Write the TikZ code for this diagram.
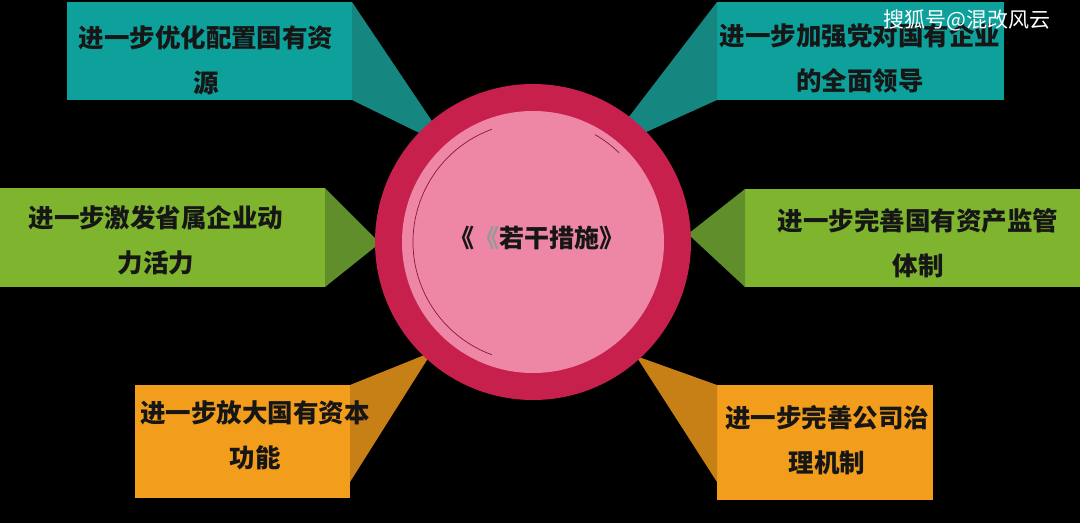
\documentclass[tikz,border=0pt]{standalone}
\usepackage{fontspec}
\newfontfamily\cjk{Noto Sans CJK SC}
\definecolor{tealbox}{RGB}{14,161,156}
\definecolor{tealwedge}{RGB}{22,134,128}
\definecolor{greenbox}{RGB}{126,180,46}
\definecolor{greenwedge}{RGB}{96,142,42}
\definecolor{orangebox}{RGB}{242,157,28}
\definecolor{orangewedge}{RGB}{199,128,22}
\definecolor{ringred}{RGB}{199,32,76}
\definecolor{discpink}{RGB}{237,135,165}
\definecolor{ink}{RGB}{22,22,22}
\tikzstyle{box}=[rectangle,inner sep=0pt,outer sep=0pt]
\tikzstyle{boxtext}=[align=center,text=ink,inner sep=0pt,font=\cjk\bfseries\fontsize{25.5}{45}\selectfont]
\tikzstyle{titletext}=[inner sep=0pt,font=\cjk\bfseries\fontsize{25}{30}\selectfont]

\begin{document}
\begin{tikzpicture}[x=1pt,y=-1pt]

   \useasboundingbox (0,0) rectangle (1080,523);
   \fill[black] (0,0) rectangle (1080,523);

    % the six boxes
    \foreach \pos/\name/\w/\h/\col in {{(209.5,51)/b1/285/98/tealbox}, {(860.5,51)/b2/287/98/tealbox},
        {(162.5,237.5)/b3/325/99/greenbox}, {(912.5,238)/b4/335/98/greenbox},
        {(242.5,441.5)/b5/215/113/orangebox}, {(825,442.5)/b6/216/115/orangebox}}
        \node[box,fill=\col,minimum width=\w,minimum height=\h] (\name) at \pos {};

    \foreach \pos/\name in {{(450,148)/w1}, {(602,152)/w2}, {(380,243)/w3},
        {(688,234)/w4}, {(432,352)/w5}, {(636,356)/w6}}
        \path \pos coordinate (\name);

    \fill[tealwedge] (b1.north east) -- (w1) -- (b1.south east) -- cycle;
    \fill[tealwedge] (b2.north west) -- (w2) -- (b2.south west) -- cycle;
    \fill[greenwedge] (b3.north east) -- (w3) -- (b3.south east) -- cycle;
    \fill[greenwedge] (b4.north west) -- (w4) -- (b4.south west) -- cycle;
    \fill[orangewedge] (b5.north east) -- (w5) -- ([yshift=16pt]b5.south east) -- cycle;
    \fill[orangewedge] (b6.north west) -- (w6) -- ([yshift=18pt]b6.south west) -- cycle;

    % centre
    \node[circle,fill=ringred,minimum size=316,inner sep=0pt] (ring) at (533,242) {};
    \node[circle,fill=discpink,minimum size=262,inner sep=0pt] (disc) at (ring) {};
    \draw[ringred!70!black,line width=0.7] (disc.center) ++(-110:120) arc[start angle=-110,end angle=-250,radius=120];
    \draw[ringred!70!black,line width=0.7] (disc.center) ++(-46:124) arc[start angle=-46,end angle=-60,radius=124];

    \node[titletext,text=ink] (title) at (537,238) {《{\color{black!40}《}若干措施》};

    \foreach \pos/\name/\txt in {{(206,60)/t1/{进一步优化配置国有资\\源}},
        {(860,58)/t2/{进一步加强党对国有企业\\的全面领导}},
        {(156,240)/t3/{进一步激发省属企业动\\力活力}},
        {(918,243)/t4/{进一步完善国有资产监管\\体制}},
        {(255,435)/t5/{进一步放大国有资本\\功能}},
        {(827,440)/t6/{进一步完善公司治\\理机制}}}
        \node[boxtext] (\name) at \pos {\txt};

   \node[text=white,inner sep=0pt,font=\cjk\fontsize{21}{25}\selectfont] (mark) at (967,20) {搜狐号@混改风云};

\end{tikzpicture}
\end{document}
